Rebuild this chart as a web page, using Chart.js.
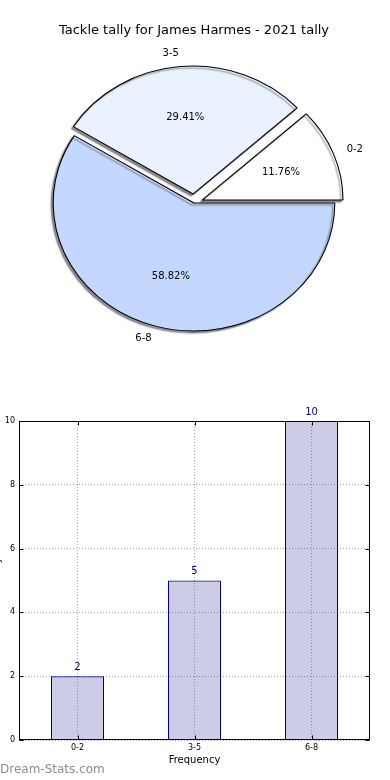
<!DOCTYPE html>
<html>
<head>
<meta charset="utf-8">
<script src="https://cdn.jsdelivr.net/npm/chart.js@4"></script>
<style>
  body { margin: 0; width: 390px; height: 780px; overflow: hidden; position: relative; background: #fff; }
  .box { position: absolute; }
</style>
</head>
<body>
<div class="box" style="left:0;top:0;width:390px;height:370px"><canvas id="pieChart"></canvas></div>
<div class="box" style="left:-14px;top:370px;width:404px;height:410px"><canvas id="barChart"></canvas></div>
<script>
// tally data
const categories = ['0-2', '3-5', '6-8'];
const counts = [2, 5, 10];
const sliceColors = ['#ffffff', '#ebf2ff', '#c4d8ff'];
const explode = [8, 9, 0];
const yTicks = [0, 2, 4, 6, 8, 10];

Chart.defaults.font.family = 'DejaVu Sans';
Chart.defaults.color = '#000';
Chart.defaults.animation = false;

const stretchX = 1.1; // pie is a bit wider than tall in the original
const total = counts.reduce((a, b) => a + b, 0);

// pie goes clockwise in Chart.js, so reverse to get the same layout
const pieLabels = categories.slice().reverse();
const pieValues = counts.slice().reverse();
const pieColors = sliceColors.slice().reverse();
const pieOffsets = explode.slice().reverse();

function midAngle(arc) {
  const p = arc.getProps(['startAngle', 'endAngle']);
  return (p.startAngle + p.endAngle) / 2;
}

const piePlugin = {
  id: 'pieStyle',
  beforeDatasetDraw(chart, args) {
    const ctx = chart.ctx;
    const arcs = args.meta.data;
    ctx.save();
    ctx.translate(arcs[0].x, arcs[0].y);
    ctx.scale(stretchX, 1);
    ctx.translate(-arcs[0].x, -arcs[0].y);
    ctx.shadowColor = 'rgba(0,0,0,0.45)';
    ctx.shadowOffsetX = -2;
    ctx.shadowOffsetY = 2;
    ctx.shadowBlur = 1.5;
    // exploded slices: shift each wedge out along its middle
    arcs.forEach((arc, i) => {
      const mid = midAngle(arc);
      ctx.save();
      ctx.translate(pieOffsets[i] * Math.cos(mid), pieOffsets[i] * Math.sin(mid));
      arc.draw(ctx, chart.chartArea);
      ctx.restore();
    });
    ctx.restore();
    return false;
  },
  afterDatasetsDraw(chart) {
    const ctx = chart.ctx;
    ctx.save();
    ctx.font = '10px "DejaVu Sans"';
    ctx.fillStyle = '#000';
    ctx.textBaseline = 'middle';
    chart.getDatasetMeta(0).data.forEach((arc, i) => {
      const p = arc.getProps(['x', 'y', 'outerRadius']);
      const mid = midAngle(arc);
      const off = pieOffsets[i];
      const c = Math.cos(mid), s = Math.sin(mid);
      // percentage inside
      const dIn = off + 0.6 * p.outerRadius;
      ctx.textAlign = 'center';
      ctx.fillText((pieValues[i] / total * 100).toFixed(2) + '%', p.x + dIn * c * stretchX, p.y + dIn * s);
      // category outside
      const dOut = off + 1.1 * p.outerRadius;
      ctx.textAlign = c >= 0 ? 'left' : 'right';
      ctx.fillText(pieLabels[i], p.x + dOut * c * stretchX, p.y + dOut * s);
    });
    ctx.restore();
  }
};

new Chart(document.getElementById('pieChart'), {
  type: 'pie',
  data: {
    labels: pieLabels,
    datasets: [{
      data: pieValues,
      backgroundColor: pieColors,
      borderColor: '#000',
      borderWidth: 1
    }]
  },
  options: {
    responsive: true,
    maintainAspectRatio: false,
    rotation: 90,
    radius: 128,
    layout: { padding: { top: 0, left: 0, right: 2, bottom: 11.6 } },
    events: [],
    plugins: {
      legend: { display: false },
      tooltip: { enabled: false },
      title: {
        display: true,
        text: 'Tackle tally for James Harmes - 2021 tally',
        color: '#000',
        font: { size: 13, weight: 'normal' },
        padding: { top: 23, bottom: 9 }
      }
    }
  },
  plugins: [piePlugin]
});

// frame, inside ticks, value labels, watermark
const barPlugin = {
  id: 'barExtras',
  afterDraw(chart) {
    const ctx = chart.ctx;
    const a = chart.chartArea;
    const x = chart.scales.x, y = chart.scales.y;
    ctx.save();
    ctx.strokeStyle = '#000';
    ctx.lineWidth = 1;
    const l = Math.round(a.left) + 0.5, r = Math.round(a.right) - 0.5;
    const t = Math.round(a.top) + 0.5, b = Math.round(a.bottom) - 0.5;
    ctx.strokeRect(l, t, r - l, b - t);
    ctx.beginPath();
    yTicks.forEach(v => {
      const py = Math.round(y.getPixelForValue(v)) + 0.5;
      ctx.moveTo(l, py); ctx.lineTo(l + 4, py);
      ctx.moveTo(r, py); ctx.lineTo(r - 4, py);
    });
    categories.forEach((c, i) => {
      const px = Math.round(x.getPixelForValue(i)) + 0.5;
      ctx.moveTo(px, b); ctx.lineTo(px, b - 4);
      ctx.moveTo(px, t); ctx.lineTo(px, t + 4);
    });
    ctx.stroke();

    ctx.font = '10px "DejaVu Sans"';
    ctx.fillStyle = '#000080';
    ctx.textAlign = 'center';
    ctx.textBaseline = 'middle';
    chart.getDatasetMeta(0).data.forEach((bar, i) => {
      ctx.fillText(String(counts[i]), bar.x, bar.y - 9);
    });

    ctx.font = '12px "DejaVu Sans"';
    ctx.fillStyle = '#8c8c8c';
    ctx.textAlign = 'left';
    ctx.fillText('Dream-Stats.com', 14, 400);
    ctx.restore();
  }
};

new Chart(document.getElementById('barChart'), {
  type: 'bar',
  data: {
    labels: categories,
    datasets: [{
      data: counts,
      backgroundColor: 'rgba(0,0,128,0.2)',
      borderColor: '#000080',
      borderWidth: 1,
      barPercentage: 53 / 117,
      categoryPercentage: 1
    }]
  },
  options: {
    responsive: true,
    maintainAspectRatio: false,
    layout: { padding: { top: 51, right: 20, left: 0, bottom: 0 } },
    events: [],
    plugins: { legend: { display: false }, tooltip: { enabled: false } },
    scales: {
      x: {
        grid: { offset: false, drawTicks: false, color: '#aaa' },
        border: { display: false, dash: [1, 2] },
        ticks: { font: { size: 8 }, padding: 3, color: '#000' },
        title: { display: true, text: 'Frequency', font: { size: 10 }, color: '#000', padding: { top: 0, bottom: 14 } },
        afterFit(scale) { scale.height = 40; }
      },
      y: {
        min: 0,
        max: 10,
        grid: { drawTicks: false, color: '#aaa' },
        border: { display: false, dash: [1, 2] },
        ticks: { stepSize: 2, font: { size: 8 }, padding: 4, color: '#000' },
        title: { display: true, text: 'Games Played', font: { size: 10 }, color: '#000', padding: { top: 5, bottom: 0 } },
        afterFit(scale) { scale.width = 33; }
      }
    }
  },
  plugins: [barPlugin]
});
</script>
</body>
</html>
